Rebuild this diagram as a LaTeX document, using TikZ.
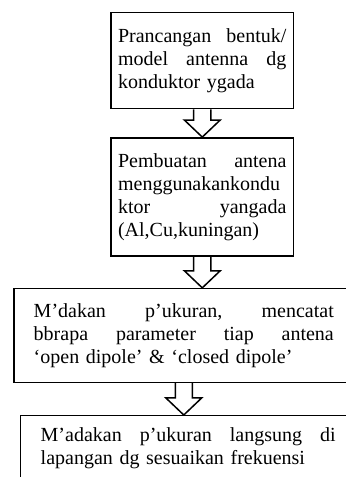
\documentclass[tikz,border=0pt]{standalone}
\usepackage{fontspec}
\setmainfont{Liberation Serif}
\usetikzlibrary{calc}

\tikzset{
	stepbox/.style={rectangle,
		draw = black,
		line width = 1.5pt,
		text = black,
		anchor = north west,
		fill = white,
		align = left,
		inner sep = 0pt,
		font = \fontsize{20}{23}\selectfont},
	blockarrow/.style={draw, line width = 1.5pt,
		to path={let \p1=(\tikztostart), \p2=(\tikztotarget) in
			(\x1-0.3cm,\y1) -- (\x1-0.3cm,\y2+0.6cm) -- (\x1-0.63cm,\y2+0.6cm)
			-- (\x1,\y2) -- (\x1+0.63cm,\y2+0.6cm) -- (\x1+0.3cm,\y2+0.6cm)
			-- (\x1+0.3cm,\y1)}}
}

\begin{document}
\begin{tikzpicture}
	
	\useasboundingbox (0cm,0cm) rectangle (12.16cm,-16.77cm);
	
	\node[stepbox,
	text width = 5.92cm,
	minimum width = 6.43cm,
	minimum height = 3.37cm] (prancangan) at (3.87cm,-0.42cm)
	{Prancangan\hfill bentuk/\\ model\hfill antenna\hfill dg\\ konduktor ygada};
	
	\node[stepbox,
	text width = 5.92cm,
	minimum width = 6.43cm,
	minimum height = 4.15cm] (pembuatan) at (3.87cm,-4.82cm)
	{Pembuatan\hfill antena\\ menggunakankondu\\ ktor\hfill yangada\\ (Al,Cu,kuningan)};
	
	\node[stepbox,
	text width = 10.55cm,
	minimum width = 11.95cm,
	minimum height = 3.30cm] (pengukuran) at (0.46cm,-10.12cm)
	{M’dakan\hfill p’ukuran,\hfill mencatat\\ bbrapa\hfill parameter\hfill tiap\hfill antena\\ ‘open dipole’ \& ‘closed dipole’};
	
	\node[stepbox,
	text width = 10.37cm,
	minimum width = 11.78cm,
	minimum height = 2.28cm] (lapangan) at (0.70cm,-14.59cm)
	{M’adakan\hfill p’ukuran\hfill langsung\hfill di\\ lapangan dg sesuaikan frekuensi};
	
	\draw[blockarrow] (prancangan.south) to (pembuatan.north);
	\draw[blockarrow] (pembuatan.south) to (pengukuran.north);
	\draw[blockarrow] (pengukuran.south) to (lapangan.north);
	
\end{tikzpicture}
\end{document}
